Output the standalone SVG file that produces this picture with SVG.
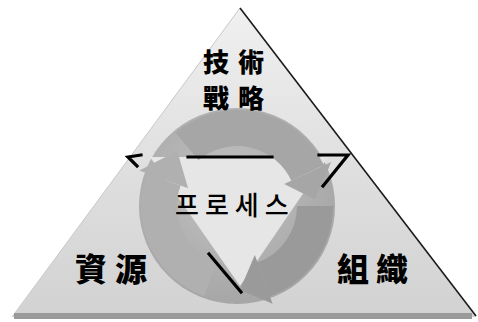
<svg xmlns="http://www.w3.org/2000/svg" width="478" height="322" viewBox="0 0 478 322">
  <defs>
    <linearGradient id="pyramidFill" x1="0" y1="0" x2="0" y2="1">
      <stop offset="0" stop-color="#f0f0f0"/>
      <stop offset="0.55" stop-color="#dedede"/>
      <stop offset="1" stop-color="#d2d2d2"/>
    </linearGradient>
    <radialGradient id="ringFill" cx="0.45" cy="0.4" r="0.65">
      <stop offset="0" stop-color="#c2c2c2"/>
      <stop offset="1" stop-color="#a4a4a4"/>
    </radialGradient>
    <style>
      .label { font-family: "Noto Sans CJK TC", "Noto Sans CJK KR", sans-serif; font-weight: 900; fill: #000; }
      .hangul { font-family: "Noto Sans CJK KR", sans-serif; font-weight: 500; fill: #000; }
      .band { fill: none; stroke-width: 36; }
      .rule { fill: none; stroke: #000; stroke-width: 3.2; stroke-linecap: square; stroke-linejoin: miter; }
    </style>
  </defs>

  <rect width="478" height="322" fill="#ffffff"/>

  <!-- pyramid body -->
  <g id="pyramid">
    <polygon points="240,8 12,317 476,317" fill="url(#pyramidFill)"/>
    <line x1="240" y1="8" x2="12" y2="317" stroke="#c8c8c8" stroke-width="1"/>
    <line x1="240" y1="8" x2="476" y2="316" stroke="#1a1a1a" stroke-width="1.6"/>
    <rect x="14" y="313" width="458" height="6" fill="#9a9a9a"/>
  </g>

  <!-- process cycle -->
  <g id="process">
    <circle cx="237" cy="206" r="98" fill="url(#ringFill)"/>
    <polygon points="150,157 328,157 240,286" fill="#e6e6e6"/>
  </g>

  <g id="connectors">
    <!-- top arrow -->
    <path class="band" stroke="#a6a6a6" d="M186.9,146.3 A78,78 0 0 1 307.7,173.0"/>
    <polygon points="284.1,184.0 331.3,162.0 314.7,199.2" fill="#a6a6a6"/>
    <!-- right arrow -->
    <path class="band" stroke="#9a9a9a" d="M315,206 A78,78 0 0 1 263.7,279.3"/>
    <polygon points="254.8,254.9 272.6,303.7 240,290" fill="#9a9a9a"/>
    <!-- left arrow -->
    <path class="band" stroke="#b0b0b0" d="M210.3,279.3 A78,78 0 0 1 163.7,179.3"/>
    <polygon points="188.1,188.2 139.3,170.4 177.2,150.9" fill="#b0b0b0"/>

    <!-- broken outline of the inner triangle -->
    <line class="rule" x1="188" y1="157" x2="272" y2="157"/>
    <polyline class="rule" points="141,155 128,157 137,166"/>
    <polyline class="rule" points="319,155 348,155 323,186"/>
    <line class="rule" x1="209" y1="254" x2="241" y2="292"/>
  </g>

  <g id="process-label">
    <text class="hangul" x="175" y="215" font-size="26" letter-spacing="6">프로세스</text>
  </g>

  <g id="tech-strategy">
    <text class="label" x="203" y="72" font-size="26" letter-spacing="9">技術</text>
    <text class="label" x="203" y="108" font-size="26" letter-spacing="9">戰略</text>
  </g>

  <g id="resources">
    <text class="label" x="75" y="281" font-size="32" letter-spacing="8">資源</text>
  </g>

  <g id="organization">
    <text class="label" x="337" y="281" font-size="32" letter-spacing="7">組織</text>
  </g>
</svg>
